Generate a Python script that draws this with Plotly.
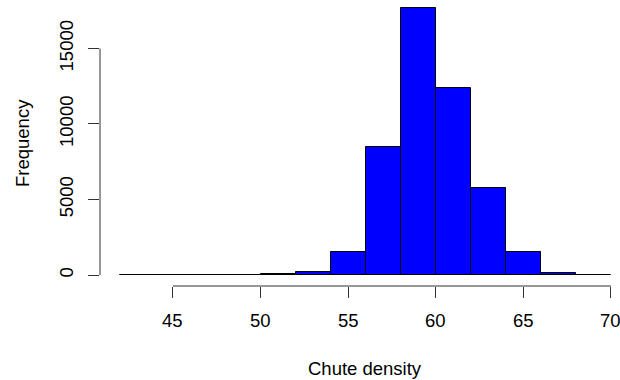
import plotly.graph_objects as go

bin_left = [42, 44, 46, 48, 50, 52, 54, 56, 58, 60, 62, 64, 66, 68]
bin_width = 2
counts = [1, 2, 4, 10, 80, 220, 1520, 8480, 17700, 12390, 5740, 1520, 130, 10]

x_ticks = [45, 50, 55, 60, 65, 70]
y_ticks = [0, 5000, 10000, 15000]

x_centers = [b + bin_width / 2 for b in bin_left]

FONT = "Liberation Sans, Arial, Helvetica, sans-serif"
FS = 18.5

fig = go.Figure()
fig.add_trace(go.Bar(
    x=x_centers, y=counts, width=[bin_width] * len(counts),
    marker=dict(color="#0000FF", line=dict(color="black", width=1)),
    showlegend=False, hoverinfo="x+y",
))

# axis lines spanning only the tick range, like base R
shapes = [
    dict(type="line", xref="x", yref="paper", x0=x_ticks[0], x1=x_ticks[-1], y0=0, y1=0,
         line=dict(color="#333", width=1)),
    dict(type="line", xref="paper", yref="y", x0=0, x1=0, y0=y_ticks[0], y1=y_ticks[-1],
         line=dict(color="#333", width=1)),
]

annotations = [
    dict(text="Chute density", xref="paper", yref="paper", x=0.5, y=0, showarrow=False,
         xanchor="center", yanchor="middle", yshift=-82, xshift=5,
         font=dict(size=FS, color="black", family=FONT)),
    dict(text="Frequency", xref="paper", yref="paper", x=0, y=0.5, showarrow=False,
         xanchor="center", yanchor="middle", xshift=-78, textangle=-90,
         font=dict(size=FS, color="black", family=FONT)),
]
# x tick labels as text so the last one is cut by the page edge like the reference
for v in x_ticks:
    annotations.append(dict(text=str(v), xref="x", yref="paper", x=v, y=0, showarrow=False,
                            xanchor="center", yanchor="middle", yshift=-34,
                            font=dict(size=FS, color="black", family=FONT)))

fig.update_layout(
    width=620, height=380,
    margin=dict(l=100, r=0, t=0, b=94),
    paper_bgcolor="white", plot_bgcolor="white",
    font=dict(family=FONT, size=FS, color="black"),
    bargap=0,
    shapes=shapes,
    annotations=annotations,
    xaxis=dict(range=[40.836, 70.514], tickvals=x_ticks, showticklabels=False,
               ticks="outside", ticklen=11, tickcolor="#333", showline=False, showgrid=False,
               zeroline=False),
    yaxis=dict(range=[-728, 18210], tickvals=y_ticks, ticktext=[str(v) for v in y_ticks],
               ticks="outside", ticklen=11, tickcolor="#333", showline=False, showgrid=False,
               zeroline=False, tickangle=-90, ticklabelstandoff=8),
)

fig.write_html("out.html")
